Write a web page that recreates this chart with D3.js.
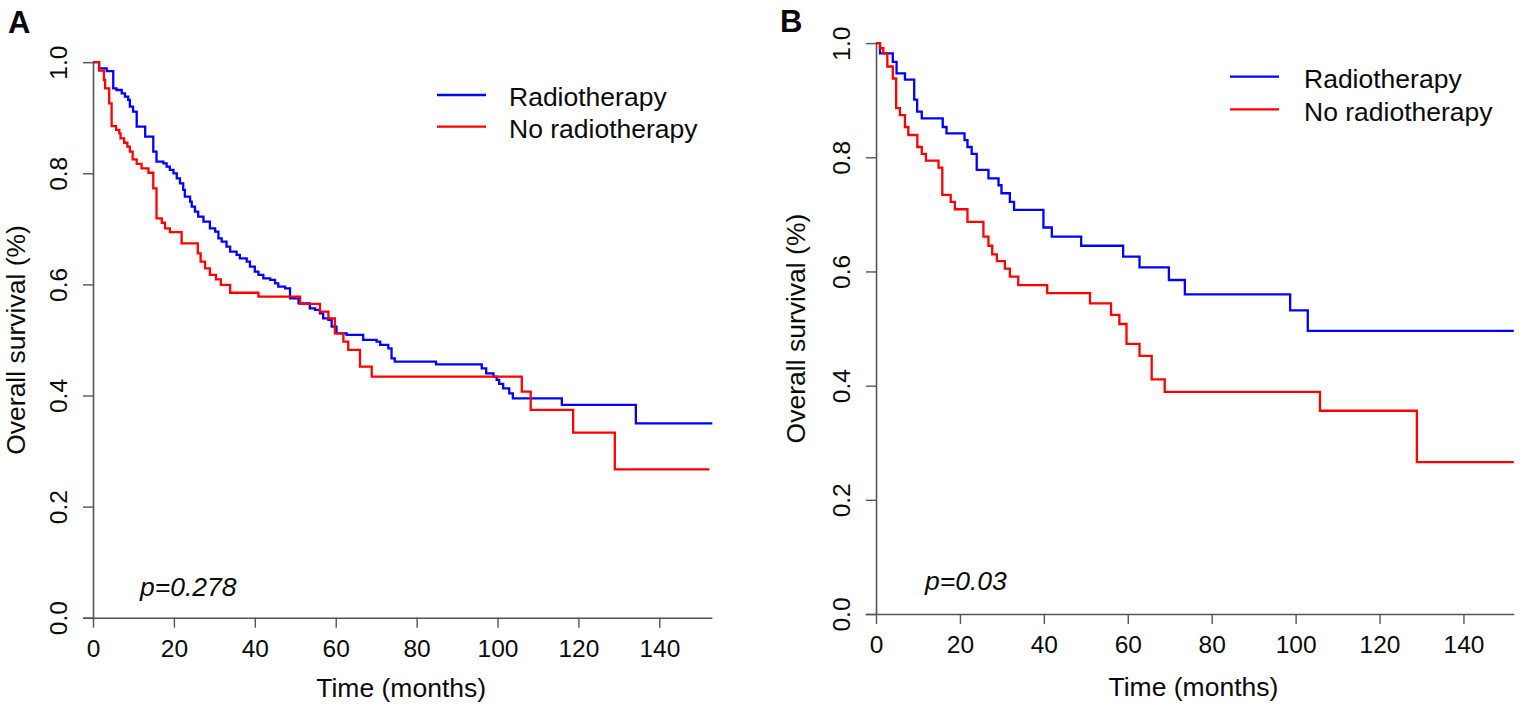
<!DOCTYPE html>
<html><head><meta charset="utf-8">
<script src="https://cdn.jsdelivr.net/npm/d3@7"></script>
<style>
body{margin:0;background:#fff;}
svg{display:block;}
text{font-family:"Liberation Sans",Arial,sans-serif;fill:#0a0a0a;}
</style>
</head><body><svg id="chart" width="1535" height="712"></svg>
<script>
// ---------- data ----------
const xTicks = [0, 20, 40, 60, 80, 100, 120, 140];
const yTicks = [0, 0.2, 0.4, 0.6, 0.8, 1.0];
const seriesNames = ["Radiotherapy", "No radiotherapy"];
const seriesColors = ["#0000ff", "#ff0000"];
const panelLabels = ["A", "B"];
const pValues = ["p=0.278", "p=0.03"];
const xTitle = "Time (months)";
const yTitle = "Overall survival (%)";

// Kaplan-Meier steps [time (months), survival]
const aRadio = [[0,1],[1.5,0.989],[3.4,0.984],[5.0,0.953],[5.8,0.950],[7.1,0.944],[7.9,0.938],[8.7,0.932],[9.1,0.920],[9.9,0.911],[10.8,0.884],[12.9,0.866],[14.9,0.839],[15.7,0.821],[17.4,0.818],[18.2,0.812],[19.0,0.806],[19.9,0.800],[20.7,0.791],[21.5,0.782],[22.3,0.770],[22.7,0.758],[24.0,0.749],[24.4,0.740],[25.2,0.731],[26.0,0.722],[27.3,0.713],[28.9,0.701],[30.2,0.695],[31.0,0.683],[31.8,0.677],[33.0,0.668],[33.9,0.659],[35.5,0.653],[36.3,0.647],[38.0,0.641],[38.8,0.632],[40.0,0.623],[40.9,0.617],[42.1,0.611],[43.8,0.608],[45.0,0.602],[45.8,0.596],[47.5,0.593],[48.7,0.575],[50.8,0.566],[53.6,0.557],[54.9,0.554],[56.1,0.548],[56.9,0.539],[58.2,0.536],[59.0,0.524],[60.2,0.512],[62.7,0.509],[66.8,0.500],[70.1,0.497],[71.0,0.491],[73.0,0.485],[73.8,0.467],[74.6,0.461],[84.8,0.456],[96.1,0.449],[97.2,0.440],[99.0,0.434],[99.8,0.428],[100.4,0.421],[101.4,0.413],[102.9,0.404],[103.8,0.395],[115.9,0.383],[134.2,0.350],[153.1,0.350]];
const aNoRadio = [[0,1],[1.5,0.985],[2.7,0.968],[3.0,0.953],[4.0,0.926],[4.6,0.885],[5.7,0.878],[6.5,0.872],[6.8,0.863],[7.7,0.855],[8.5,0.848],[9.1,0.839],[9.8,0.825],[10.8,0.817],[12.0,0.809],[13.7,0.801],[14.9,0.773],[15.7,0.719],[17.0,0.711],[17.8,0.701],[19.0,0.694],[21.9,0.674],[25.9,0.656],[26.6,0.641],[27.7,0.629],[28.9,0.617],[30.4,0.609],[31.6,0.599],[33.9,0.585],[40.9,0.578],[51.2,0.565],[56.1,0.551],[58.2,0.539],[59.8,0.512],[61.9,0.497],[63.1,0.482],[66.0,0.452],[68.9,0.434],[106.0,0.407],[108.2,0.374],[118.7,0.333],[129.0,0.267],[152.4,0.267]];
const bRadio = [[0,1],[0.95,0.982],[4.0,0.967],[4.9,0.947],[6.9,0.936],[9.1,0.901],[9.8,0.880],[10.9,0.868],[15.9,0.853],[16.8,0.842],[21.1,0.830],[21.8,0.818],[22.8,0.806],[24.0,0.778],[26.8,0.763],[29.2,0.751],[29.9,0.737],[31.9,0.722],[32.9,0.708],[39.9,0.677],[41.9,0.661],[48.9,0.645],[58.9,0.626],[62.8,0.607],[69.8,0.585],[73.6,0.560],[98.7,0.532],[102.9,0.496],[152,0.496]];
const bNoRadio = [[0,1],[0.95,0.991],[1.75,0.982],[2.7,0.959],[4.0,0.938],[4.8,0.886],[5.7,0.874],[6.9,0.853],[7.7,0.839],[9.85,0.818],[10.9,0.806],[11.9,0.794],[14.9,0.782],[15.8,0.734],[17.8,0.722],[18.8,0.709],[21.8,0.687],[25.6,0.661],[26.8,0.645],[27.7,0.630],[28.8,0.618],[30.7,0.605],[31.9,0.591],[33.9,0.576],[40.8,0.562],[51.0,0.544],[56.0,0.524],[58.0,0.508],[59.7,0.473],[62.8,0.452],[65.7,0.411],[68.8,0.389],[105.8,0.356],[128.9,0.266],[152,0.266]];

const panelSeries = [[aRadio, aNoRadio], [bRadio, bNoRadio]];
const xExtents = [[-2.6, 153], [-2.6, 152]];

// ---------- layout ----------
const layouts = [
  {x0: 82.5, x1: 711.9, y0: 617.7, y1: 62.2, labelX: 8, labelY: 33,
   legLineX: 437, legTextX: 509, legY: [95, 126.7], legDy: 11,
   pX: 140, pY: 596, yTitleX: 25, xTitleY: 697},
  {x0: 865.1, x1: 1513.8, y0: 614, y1: 43.1, labelX: 780, labelY: 32,
   legLineX: 1230, legTextX: 1304, legY: [76.7, 109.3], legDy: 11.5,
   pX: 925, pY: 590, yTitleX: 805, xTitleY: 696}
];

const svg = d3.select("#chart");
const axisColor = "#555";
const FONT = "'Liberation Sans',Arial,sans-serif";

layouts.forEach((L, i) => {
  const x = d3.scaleLinear().domain(xExtents[i]).range([L.x0, L.x1]);
  const y = d3.scaleLinear().domain([0, 1]).range([L.y0, L.y1]);
  const g = svg.append("g");
  const ox = x(0);

  // x axis
  const xa = g.append("g").attr("transform", `translate(0,${L.y0})`)
    .call(d3.axisBottom(x).tickValues(xTicks).tickSize(10).tickSizeOuter(0).tickFormat(d3.format("d")));
  xa.select(".domain").attr("stroke", axisColor).attr("stroke-width", 1.6);
  xa.selectAll(".tick line").attr("stroke", axisColor).attr("stroke-width", 1.4);
  xa.selectAll(".tick text").attr("y", 39).attr("dy", 0)
    .style("font-size", "24.5px").style("font-family", FONT).attr("fill", "#0a0a0a");

  // y axis
  const ya = g.append("g").attr("transform", `translate(${ox},0)`)
    .call(d3.axisLeft(y).tickValues(yTicks).tickSize(10).tickSizeOuter(0).tickFormat(d3.format(".1f")));
  ya.select(".domain").attr("stroke", axisColor).attr("stroke-width", 1.6);
  ya.selectAll(".tick line").attr("stroke", axisColor).attr("stroke-width", 1.4);
  ya.selectAll(".tick text")
    .attr("transform", "rotate(-90)").attr("x", 0).attr("y", -26).attr("dy", 0)
    .attr("text-anchor", "middle")
    .style("font-size", "24.5px").style("font-family", FONT).attr("fill", "#0a0a0a");

  // curves
  const line = d3.line().x(d => x(d[0])).y(d => y(d[1])).curve(d3.curveStepAfter);
  panelSeries[i].forEach((s, k) => {
    g.append("path").datum(s).attr("d", line)
      .attr("fill", "none").attr("stroke", seriesColors[k]).attr("stroke-width", 2.3);
  });

  // legend
  seriesNames.forEach((name, k) => {
    g.append("line").attr("x1", L.legLineX).attr("x2", L.legLineX + 49)
      .attr("y1", L.legY[k]).attr("y2", L.legY[k])
      .attr("stroke", seriesColors[k]).attr("stroke-width", 2.3);
    g.append("text").attr("x", L.legTextX).attr("y", L.legY[k] + L.legDy)
      .style("font-size", "26.5px").text(name);
  });

  // p value
  g.append("text").attr("x", L.pX).attr("y", L.pY)
    .style("font-size", "26.5px").style("font-style", "italic").text(pValues[i]);

  // axis titles
  g.append("text").attr("x", (L.x0 + L.x1) / 2 + 4).attr("y", L.xTitleY)
    .attr("text-anchor", "middle").style("font-size", "26.5px").text(xTitle);
  g.append("text").attr("transform", `translate(${L.yTitleX},${(L.y0 + L.y1) / 2}) rotate(-90)`)
    .attr("text-anchor", "middle").style("font-size", "26.5px").text(yTitle);

  // panel label
  g.append("text").attr("x", L.labelX).attr("y", L.labelY)
    .style("font-size", "31px").style("font-weight", "bold").attr("fill", "#000").text(panelLabels[i]);
});
</script>
</body></html>
